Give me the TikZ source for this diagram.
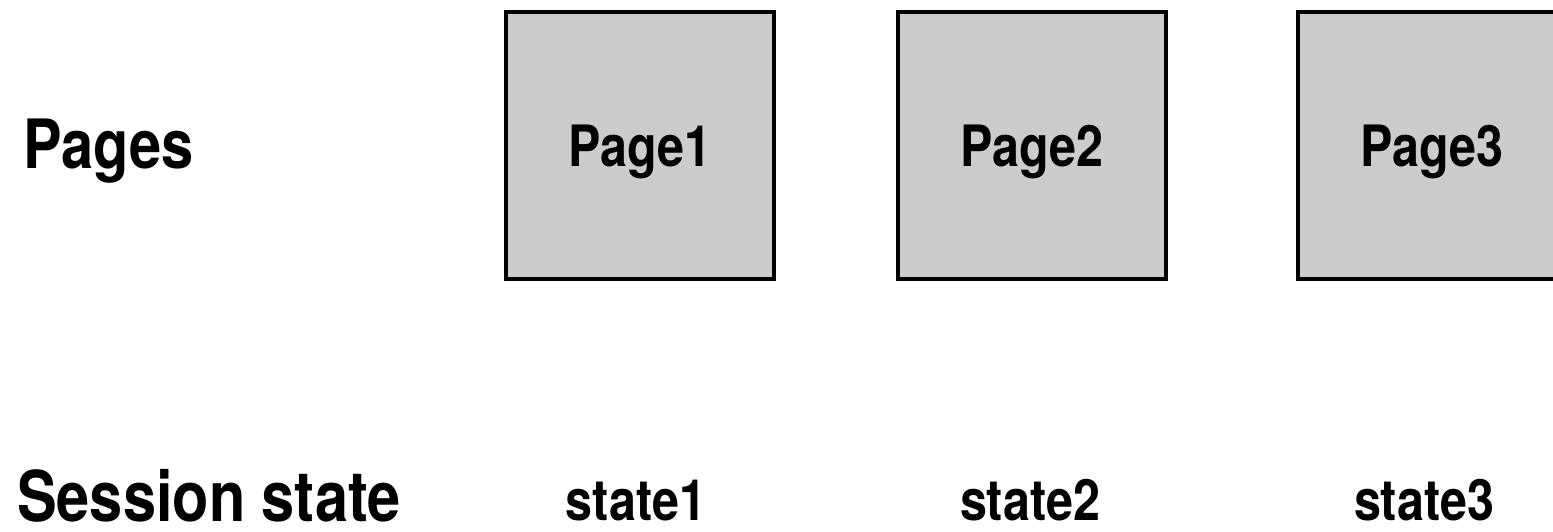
\documentclass[tikz,border=0pt]{standalone}
\usepackage{fontspec}
\setmainfont{TeX Gyre Heros}[FakeStretch=0.85]
\begin{document}
\begin{tikzpicture}[x=1pt,y=-1pt,
  pagebox/.style={draw=black, fill=boxgray, line width=4pt, minimum width=268pt, minimum height=267pt, inner sep=0pt,
    font=\fontsize{57}{57}\selectfont\bfseries, text height=42pt, text depth=0pt},
  rowlabel/.style={anchor=base west, inner sep=0pt, font=\bfseries},
  statelabel/.style={anchor=base, inner sep=0pt, font=\fontsize{57}{57}\selectfont\bfseries}]
\definecolor{boxgray}{HTML}{CCCCCC}
\useasboundingbox (0,0) rectangle (1553,531);
\clip (0,0) rectangle (1553,531);
\node[rowlabel, font=\fontsize{68}{68}\selectfont\bfseries] (pages) at (23,168) {Pages};
\node[rowlabel, font=\fontsize{70}{70}\selectfont\bfseries] (session) at (17,521) {Session state};
\node[pagebox] (p1) at (640,145.5) {Page1};
\node[pagebox] (p2) at (1032,145.5) {Page2};
\node[pagebox] (p3) at (1432,145.5) {Page3};
\node[statelabel] (s1) at (636,520) {state1};
\node[statelabel] (s2) at (1030,520) {state2};
\node[statelabel] (s3) at (1424,520) {state3};
\end{tikzpicture}
\end{document}
